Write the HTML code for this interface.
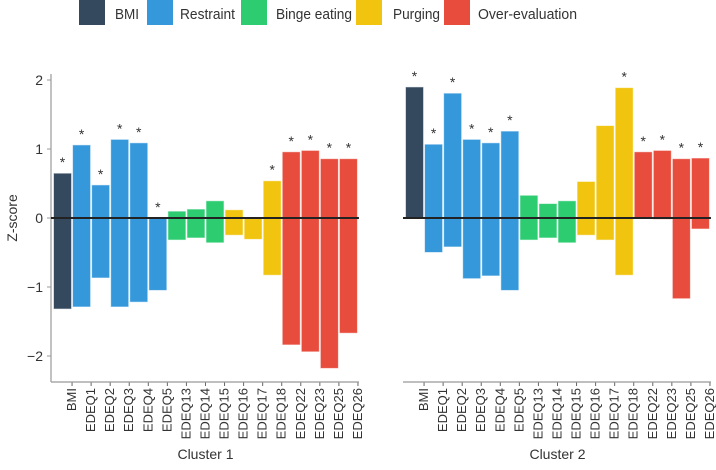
<!DOCTYPE html>
<html><head><meta charset="utf-8"><style>
body{margin:0;background:#fff;}
svg{display:block;font-family:"Liberation Sans",sans-serif;}
</style></head><body>
<svg id="chart" width="716" height="470"></svg>
<script>
const categories=["BMI","EDEQ1","EDEQ2","EDEQ3","EDEQ4","EDEQ5","EDEQ13","EDEQ14","EDEQ15","EDEQ16","EDEQ17","EDEQ18","EDEQ22","EDEQ23","EDEQ25","EDEQ26"];
const groups=["BMI","Restraint","Restraint","Restraint","Restraint","Restraint","Binge eating","Binge eating","Binge eating","Purging","Purging","Purging","Over-evaluation","Over-evaluation","Over-evaluation","Over-evaluation"];
const c1High=[0.65,1.06,0.48,1.14,1.09,0,0.10,0.13,0.25,0.12,0,0.54,0.96,0.98,0.86,0.86];
const c1Low=[-1.32,-1.29,-0.87,-1.29,-1.22,-1.05,-0.32,-0.29,-0.36,-0.25,-0.31,-0.83,-1.84,-1.94,-2.18,-1.67];
const c2High=[1.90,1.07,1.81,1.14,1.09,1.26,0.33,0.21,0.25,0.53,1.34,1.89,0.96,0.98,0.86,0.87];
const c2Low=[0,-0.50,-0.42,-0.88,-0.84,-1.05,-0.32,-0.29,-0.36,-0.25,-0.32,-0.83,0,-0.02,-1.17,-0.16];
const c1Sig=[1,1,1,1,1,1,0,0,0,0,0,1,1,1,1,1];
const c2Sig=[1,1,1,1,1,1,0,0,0,0,0,1,1,1,1,1];
const yTicks=[-2,-1,0,1,2];
const legendNames=["BMI","Restraint","Binge eating","Purging","Over-evaluation"];
const colors={"BMI":"#34495e","Restraint":"#3498db","Binge eating":"#2ecc71","Purging":"#f1c40f","Over-evaluation":"#e74c3c"};

const NS="http://www.w3.org/2000/svg";
const svg=document.getElementById('chart');
function mk(tag,attrs,parent){const e=document.createElementNS(NS,tag);for(const k in attrs)e.setAttribute(k,attrs[k]);(parent||svg).appendChild(e);return e;}
const y=v=>218-v*69;
const bw=19.06;

// legend
const lx=[79,147,241,356,444], tx=[115,180,276,393,478], tw=[24,55,76,47,99];
legendNames.forEach((n,i)=>{
  const g=mk('g',{});
  
  
  mk('rect',{x:lx[i],y:0,width:26,height:25,fill:colors[n]},g);
  const t=mk('text',{x:tx[i],y:19,'font-size':14.5,fill:'#333',textLength:tw[i],lengthAdjust:'spacingAndGlyphs'},g);t.textContent=n;
});

// y axis
const ya=mk('g',{});


mk('line',{x1:51,y1:74,x2:51,y2:382,stroke:'#999','stroke-width':1.2},ya);
yTicks.forEach(v=>{
  mk('line',{x1:47,y1:y(v),x2:51,y2:y(v),stroke:'#999'},ya);
  const t=mk('text',{x:43,y:y(v)+5,'font-size':14,'text-anchor':'end',fill:'#333'},ya);
  t.textContent=v<0?'\u2212'+Math.abs(v):String(v);
});
const yt=mk('text',{x:0,y:0,transform:'translate(17,218) rotate(-90)','font-size':14,'text-anchor':'middle',fill:'#333'});


yt.textContent='Z-score';

function panel(x0,low,high,sig,title,id){
  const g=mk('g',{});
  
  
  categories.forEach((c,i)=>{
    const bx=x0+i*bw, top=y(high[i]), bot=y(low[i]);
    const r=mk('rect',{x:bx+0.5,y:top,width:bw-1,height:Math.max(bot-top,0.5),fill:colors[groups[i]],stroke:'rgba(255,255,255,0.6)','stroke-width':1},g);
    
    
    if(sig[i]){const s=mk('text',{x:bx+bw/2,y:top-6,'font-size':14,'text-anchor':'middle',fill:'#333'},g);s.textContent='*';}
    mk('line',{x1:bx+bw,y1:382,x2:bx+bw,y2:386,stroke:'#666'},g);
    const lt=mk('text',{x:0,y:0,transform:`translate(${bx+bw+4},388) rotate(-90)`,'font-size':13,'text-anchor':'end',fill:'#333'},g);
    
    
    lt.textContent=c;
  });
  mk('line',{x1:x0-2,y1:y(0),x2:x0+16*bw+1,y2:y(0),stroke:'#222','stroke-width':2},g);
  mk('line',{x1:x0-2,y1:382,x2:x0+16*bw+1,y2:382,stroke:'#999','stroke-width':1.2},g);
  const tt=mk('text',{x:x0+8*bw,y:459,'font-size':14,'text-anchor':'middle',fill:'#333'},g);
  
  
  tt.textContent=title;
}
panel(53,c1Low,c1High,c1Sig,'Cluster 1','panel-cluster-1');
panel(405,c2Low,c2High,c2Sig,'Cluster 2','panel-cluster-2');
</script>
</body></html>
